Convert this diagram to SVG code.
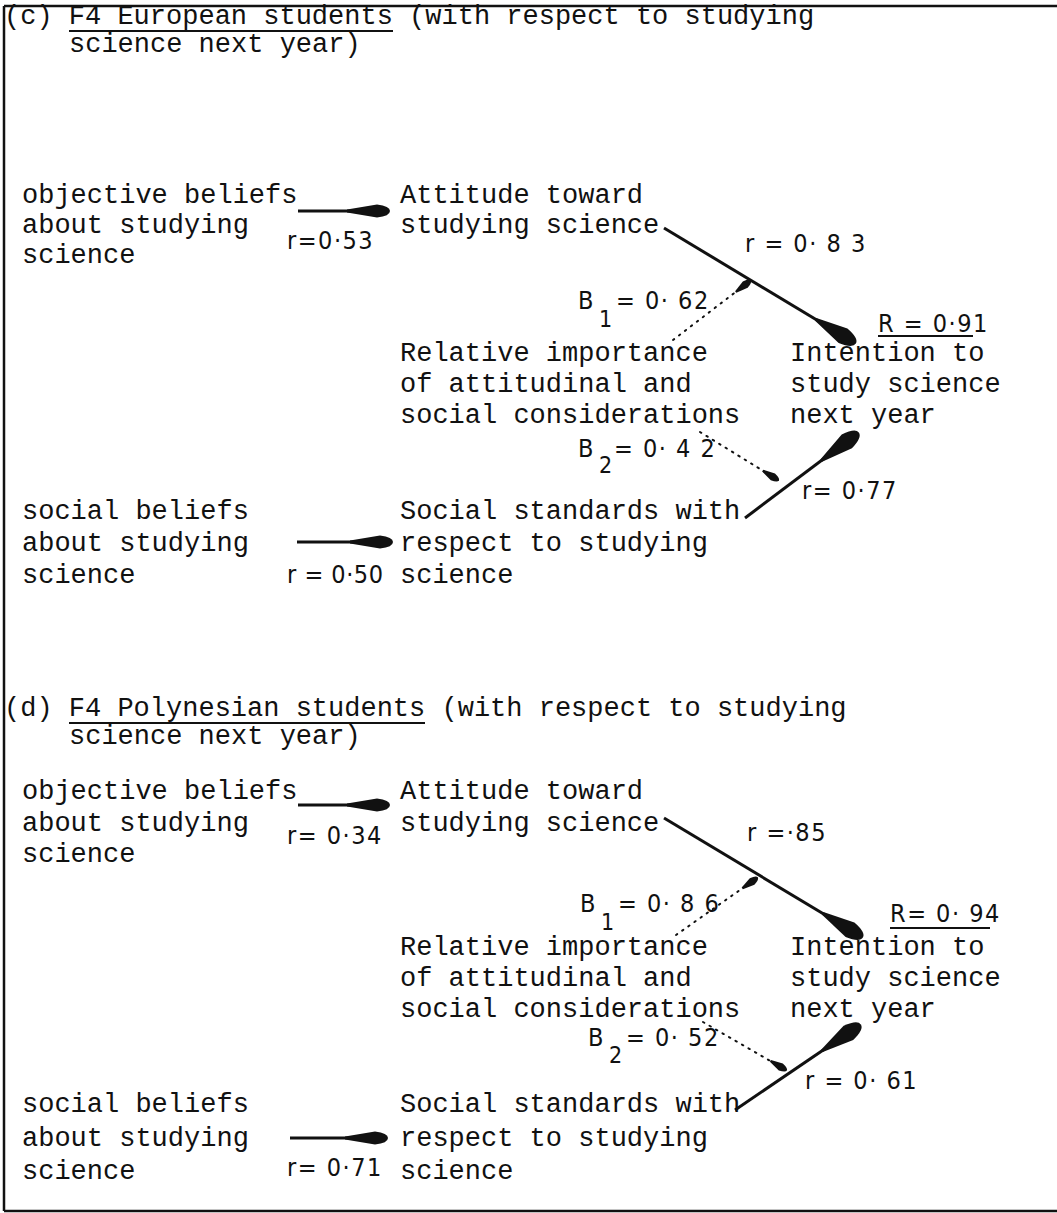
<svg xmlns="http://www.w3.org/2000/svg" width="1057" height="1213" viewBox="0 0 1057 1213">
<style>
.t{font-family:"Liberation Mono","DejaVu Sans Mono",monospace;font-size:27px;fill:#111}
.l{font-family:"DejaVu Sans Condensed","Liberation Sans",sans-serif;font-size:25px;fill:#111;letter-spacing:1.5px}
.s{font-family:"DejaVu Sans Condensed","Liberation Sans",sans-serif;font-size:23px;fill:#111}
.solid{stroke:#111;stroke-width:3;fill:none}
.dot{stroke:#111;stroke-width:2;stroke-dasharray:1.5 6;fill:none;stroke-linecap:round}
.ul{stroke:#111;stroke-width:2}
</style>
<defs>
<marker id="big" markerUnits="userSpaceOnUse" orient="auto" refX="0" refY="0" markerWidth="60" markerHeight="30" viewBox="-50 -15 60 30" overflow="visible">
<path d="M-46,-1.5 L-14,-8.5 Q1,-6 1,0 Q1,6 -14,8.5 L-46,1.5 Z" fill="#111"/>
</marker>
<marker id="mid" markerUnits="userSpaceOnUse" orient="auto" refX="0" refY="0" markerWidth="50" markerHeight="30" viewBox="-45 -15 50 30" overflow="visible">
<path d="M-42,-1.5 L-12,-6.5 Q1,-5 1,0 Q1,5 -12,6.5 L-42,1.5 Z" fill="#111"/>
</marker>
<marker id="small" markerUnits="userSpaceOnUse" orient="auto" refX="0" refY="0" markerWidth="30" markerHeight="20" viewBox="-25 -10 30 20" overflow="visible">
<path d="M-18,-1 L-6,-4 Q1,-2.5 1,0 Q1,2.5 -6,4 L-18,1 Z" fill="#111"/>
</marker>
</defs>
<rect width="1057" height="1213" fill="#fff"/>
<g id="frame" stroke="#111" stroke-width="2.5">
<line x1="4" y1="6" x2="1057" y2="6"/>
<line x1="4" y1="6" x2="4" y2="1211"/>
<line x1="4" y1="1211" x2="1057" y2="1211"/>
</g>

<g id="header-c">
<text class="t" x="4" y="24">(c) F4 European students (with respect to studying</text>
<text class="t" x="69" y="52">science next year)</text>
<line class="ul" x1="69" y1="31" x2="393" y2="31"/>
</g>
<g id="c-objective"><text class="t" x="22" y="203">objective beliefs</text><text class="t" x="22" y="233">about studying</text><text class="t" x="22" y="263">science</text></g>
<g id="c-attitude"><text class="t" x="400" y="203">Attitude toward</text><text class="t" x="400" y="233">studying science</text></g>
<g id="c-relative"><text class="t" x="400" y="361">Relative importance</text><text class="t" x="400" y="392">of attitudinal and</text><text class="t" x="400" y="423">social considerations</text></g>
<g id="c-intention"><text class="t" x="790" y="361">Intention to</text><text class="t" x="790" y="392">study science</text><text class="t" x="790" y="423">next year</text></g>
<g id="c-social"><text class="t" x="22" y="519">social beliefs</text><text class="t" x="22" y="551">about studying</text><text class="t" x="22" y="583">science</text></g>
<g id="c-standards"><text class="t" x="400" y="519">Social standards with</text><text class="t" x="400" y="551">respect to studying</text><text class="t" x="400" y="583">science</text></g>
<g id="c-labels">
<text class="l" x="287" y="249">r=0·53</text>
<text class="l" x="745" y="252">r = 0· 8 3</text>
<text class="l" x="578" y="309">B</text><text class="s" x="599" y="327">1</text><text class="l" x="616" y="309">= 0· 62</text>
<text class="l" x="578" y="457">B</text><text class="s" x="599" y="473">2</text><text class="l" x="614" y="457">= 0· 4 2</text>
<text class="l" x="802" y="499">r= 0·77</text>
<text class="l" x="287" y="583" style="letter-spacing:0.5px">r = 0·50</text>
<text class="l" x="878" y="332">R = 0·91</text>
<line class="ul" x1="878" y1="336" x2="973" y2="336"/>
</g>

<g id="header-d">
<text class="t" x="4" y="716">(d) F4 Polynesian students (with respect to studying</text>
<text class="t" x="69" y="744">science next year)</text>
<line class="ul" x1="69" y1="723" x2="425" y2="723"/>
</g>
<g id="d-objective"><text class="t" x="22" y="799">objective beliefs</text><text class="t" x="22" y="831">about studying</text><text class="t" x="22" y="862">science</text></g>
<g id="d-attitude"><text class="t" x="400" y="799">Attitude toward</text><text class="t" x="400" y="831">studying science</text></g>
<g id="d-relative"><text class="t" x="400" y="955">Relative importance</text><text class="t" x="400" y="986">of attitudinal and</text><text class="t" x="400" y="1017">social considerations</text></g>
<g id="d-intention"><text class="t" x="790" y="955">Intention to</text><text class="t" x="790" y="986">study science</text><text class="t" x="790" y="1017">next year</text></g>
<g id="d-social"><text class="t" x="22" y="1112">social beliefs</text><text class="t" x="22" y="1146">about studying</text><text class="t" x="22" y="1179">science</text></g>
<g id="d-standards"><text class="t" x="400" y="1112">Social standards with</text><text class="t" x="400" y="1146">respect to studying</text><text class="t" x="400" y="1179">science</text></g>
<g id="d-labels">
<text class="l" x="287" y="844">r= 0·34</text>
<text class="l" x="747" y="841">r =·85</text>
<text class="l" x="580" y="912">B</text><text class="s" x="601" y="930">1</text><text class="l" x="618" y="912">= 0· 8 6</text>
<text class="l" x="588" y="1046">B</text><text class="s" x="609" y="1063">2</text><text class="l" x="626" y="1046">= 0· 52</text>
<text class="l" x="805" y="1089">r = 0· 61</text>
<text class="l" x="287" y="1176">r= 0·71</text>
<text class="l" x="890" y="922">R= 0· 94</text>
<line class="ul" x1="890" y1="928" x2="990" y2="928"/>
</g>

<g id="connectors">
<line class="solid" x1="298" y1="211" x2="389" y2="211" marker-end="url(#mid)"/>
<line class="solid" x1="664" y1="228" x2="855" y2="343" marker-end="url(#big)"/>
<line class="dot" x1="673" y1="340" x2="750" y2="281" marker-end="url(#small)"/>
<line class="dot" x1="700" y1="432" x2="778" y2="480" marker-end="url(#small)"/>
<line class="solid" x1="745" y1="518" x2="858" y2="433" marker-end="url(#big)"/>
<line class="solid" x1="297" y1="542" x2="392" y2="542" marker-end="url(#mid)"/>

<line class="solid" x1="298" y1="805" x2="389" y2="805" marker-end="url(#mid)"/>
<line class="solid" x1="664" y1="818" x2="862" y2="937" marker-end="url(#big)"/>
<line class="dot" x1="676" y1="935" x2="757" y2="878" marker-end="url(#small)"/>
<line class="dot" x1="703" y1="1022" x2="786" y2="1070" marker-end="url(#small)"/>
<line class="solid" x1="735" y1="1110" x2="860" y2="1025" marker-end="url(#big)"/>
<line class="solid" x1="290" y1="1138" x2="387" y2="1138" marker-end="url(#mid)"/>
</g>
</svg>
